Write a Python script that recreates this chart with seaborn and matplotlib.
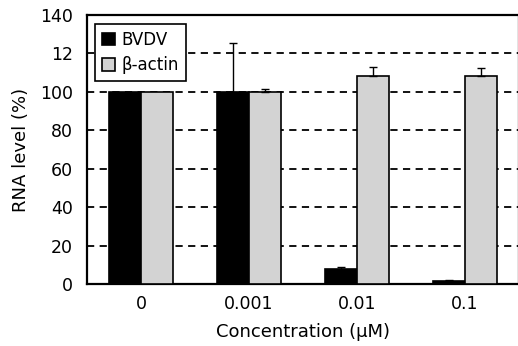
import matplotlib
matplotlib.use("Agg")
import matplotlib.pyplot as plt
import seaborn as sns
import pandas as pd
import numpy as np

concentrations = ["0", "0.001", "0.01", "0.1"]
series = ["BVDV", "β-actin"]
bvdv_values = [100, 100, 8, 1.5]
bvdv_err = [0, 25.5, 1, 0.5]
actin_values = [100, 100, 108.5, 108.3]
actin_err = [0, 1.5, 4.5, 4.3]
y_ticks = [0, 20, 40, 60, 80, 100, 120, 140]
y_tick_labels = ["0", "20", "40", "60", "80", "100", "12", "140"]
colors = ["#000000", "#d3d3d3"]

sns.set_style("white")
plt.rcParams["font.family"] = ["DejaVu Sans"]
plt.rcParams["text.color"] = "black"
plt.rcParams["axes.labelcolor"] = "black"
plt.rcParams["xtick.color"] = "black"
plt.rcParams["ytick.color"] = "black"

df = pd.DataFrame({
    "Concentration": concentrations * 2,
    "Series": [series[0]] * 4 + [series[1]] * 4,
    "Value": bvdv_values + actin_values,
})

fig = plt.figure(figsize=(5.18, 3.46), dpi=100)
ax = fig.add_axes([87 / 518, (346 - 284) / 346, 432 / 518, 269 / 346])

sns.barplot(data=df, x="Concentration", y="Value", hue="Series",
            order=concentrations, hue_order=series, palette=colors,
            width=0.6, edgecolor="black", linewidth=1.2, errorbar=None,
            ax=ax, zorder=3)

# error bars (upper only)
errs = bvdv_err + actin_err
vals = bvdv_values + actin_values
patches = [p for p in ax.patches if p.get_height() > 0][:8]
for p, v, e in zip(patches, vals, errs):
    if e > 0:
        xc = p.get_x() + p.get_width() / 2
        ax.errorbar(xc, v, yerr=[[0], [e]], fmt="none", ecolor="black",
                    elinewidth=1.0, capsize=3, capthick=1.0, zorder=4)

ax.set_ylim(0, 140)
ax.set_xlim(-0.5, 3.5)
ax.set_yticks(y_ticks)
ax.set_yticklabels(y_tick_labels)
for y in y_ticks[1:-1]:
    ax.axhline(y, color="black", linestyle=(0, (4, 3)), linewidth=1.3, zorder=1)

ax.tick_params(axis="y", length=0, pad=10, labelsize=12.5, labelcolor="black")
ax.tick_params(axis="x", which="major", length=0, pad=8, labelsize=12.5, labelcolor="black")
ax.set_xticks([0.5, 1.5, 2.5], minor=True)
ax.tick_params(axis="x", which="minor", direction="in", length=4, width=1.2, color="black")

for s in ax.spines.values():
    s.set_color("black")
    s.set_linewidth(1.6)

ax.set_xlabel("Concentration (µM)", fontsize=13, labelpad=7, color="black")
ax.set_ylabel("RNA level (%)", fontsize=13, labelpad=7, color="black")

leg = ax.legend(loc="upper left", fontsize=12, frameon=True, fancybox=False,
                edgecolor="black", handlelength=0.8, handleheight=0.8,
                handletextpad=0.4, borderpad=0.4, labelspacing=0.45,
                borderaxespad=0, bbox_to_anchor=(8 / 432, 260 / 269))
leg.get_frame().set_linewidth(1.2)
leg.get_frame().set_alpha(1)
leg.set_zorder(5)
for t in leg.get_texts():
    t.set_color("black")

fig.savefig("out.png", dpi=100)
